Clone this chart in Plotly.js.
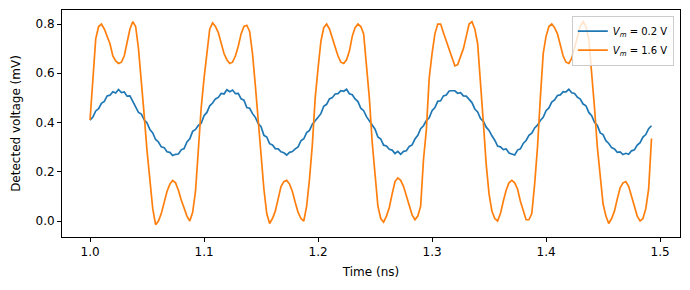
<!DOCTYPE html>
<html>
<head>
<meta charset="utf-8">
<script src="https://cdn.plot.ly/plotly-3.0.1.min.js"></script>
<style>
  html, body { margin: 0; padding: 0; background: #ffffff; }
  #chart { width: 690px; height: 290px; }
</style>
</head>
<body>
<div id="chart"></div>
<script>
// Detected voltage traces, sampled every 2.5 ps starting at t = 1.0 ns
const timeStart = 1.0;   // ns
const timeStep = 0.0025; // ns

// V_m = 0.2 V (mV)
const detectedLow = [
  0.410, 0.422, 0.447, 0.456, 0.478, 0.486, 0.508, 0.511, 0.525, 0.520,
  0.534, 0.522, 0.524, 0.507, 0.508, 0.486, 0.466, 0.441, 0.434, 0.411,
  0.398, 0.371, 0.358, 0.331, 0.321, 0.301, 0.298, 0.281, 0.279, 0.266,
  0.271, 0.272, 0.289, 0.294, 0.321, 0.334, 0.364, 0.372, 0.388, 0.397,
  0.428, 0.441, 0.468, 0.479, 0.496, 0.502, 0.518, 0.516, 0.533, 0.525,
  0.532, 0.517, 0.518, 0.496, 0.491, 0.461, 0.458, 0.436, 0.421, 0.396,
  0.383, 0.348, 0.341, 0.314, 0.309, 0.294, 0.293, 0.281, 0.277, 0.268,
  0.279, 0.282, 0.293, 0.301, 0.326, 0.334, 0.359, 0.368, 0.393, 0.405,
  0.421, 0.436, 0.466, 0.474, 0.496, 0.501, 0.516, 0.517, 0.529, 0.527,
  0.535, 0.517, 0.513, 0.496, 0.485, 0.458, 0.448, 0.424, 0.408, 0.388,
  0.373, 0.341, 0.333, 0.308, 0.305, 0.291, 0.288, 0.274, 0.283, 0.271,
  0.283, 0.285, 0.303, 0.309, 0.333, 0.348, 0.375, 0.387, 0.408, 0.419,
  0.448, 0.461, 0.486, 0.488, 0.508, 0.512, 0.528, 0.529, 0.529, 0.519,
  0.521, 0.508, 0.507, 0.494, 0.481, 0.455, 0.443, 0.416, 0.405, 0.381,
  0.368, 0.346, 0.328, 0.304, 0.301, 0.290, 0.293, 0.276, 0.273, 0.268,
  0.288, 0.293, 0.315, 0.327, 0.348, 0.357, 0.378, 0.389, 0.408, 0.421,
  0.448, 0.459, 0.483, 0.492, 0.510, 0.512, 0.525, 0.524, 0.535, 0.521,
  0.518, 0.503, 0.495, 0.475, 0.468, 0.441, 0.428, 0.401, 0.388, 0.358,
  0.351, 0.326, 0.315, 0.298, 0.293, 0.279, 0.281, 0.270, 0.275, 0.271,
  0.285, 0.289, 0.308, 0.318, 0.341, 0.351, 0.375, 0.387
];

// V_m = 1.6 V (mV)
const detectedHigh = [
  0.410, 0.580, 0.740, 0.790, 0.800, 0.780, 0.750, 0.720, 0.670, 0.650,
  0.640, 0.645, 0.670, 0.730, 0.780, 0.810, 0.790, 0.700, 0.580, 0.430,
  0.285, 0.150, 0.050, -0.015, 0.000, 0.030, 0.080, 0.120, 0.150, 0.165,
  0.155, 0.125, 0.085, 0.050, 0.020, 0.000, 0.035, 0.120, 0.300, 0.460,
  0.580, 0.680, 0.780, 0.805, 0.790, 0.765, 0.720, 0.680, 0.655, 0.640,
  0.645, 0.670, 0.710, 0.760, 0.790, 0.795, 0.770, 0.680, 0.550, 0.400,
  0.260, 0.130, 0.030, -0.010, 0.010, 0.040, 0.090, 0.140, 0.160, 0.165,
  0.150, 0.120, 0.075, 0.035, 0.010, 0.000, 0.060, 0.170, 0.310, 0.500,
  0.620, 0.730, 0.785, 0.800, 0.780, 0.745, 0.705, 0.670, 0.645, 0.640,
  0.655, 0.690, 0.750, 0.785, 0.800, 0.790, 0.760, 0.640, 0.500, 0.320,
  0.180, 0.060, 0.010, -0.005, 0.020, 0.055, 0.110, 0.160, 0.175, 0.165,
  0.140, 0.100, 0.060, 0.025, 0.005, 0.020, 0.060, 0.250, 0.370, 0.580,
  0.680, 0.760, 0.800, 0.800, 0.765, 0.730, 0.695, 0.660, 0.630, 0.635,
  0.670, 0.700, 0.750, 0.800, 0.810, 0.780, 0.720, 0.570, 0.400, 0.230,
  0.110, 0.040, 0.010, 0.000, 0.030, 0.080, 0.125, 0.155, 0.165, 0.155,
  0.130, 0.080, 0.040, 0.005, 0.005, 0.030, 0.150, 0.300, 0.500, 0.680,
  0.750, 0.790, 0.800, 0.785, 0.760, 0.710, 0.670, 0.645, 0.640, 0.660,
  0.700, 0.750, 0.790, 0.810, 0.790, 0.740, 0.610, 0.460, 0.300, 0.170,
  0.070, 0.020, -0.010, 0.010, 0.040, 0.090, 0.135, 0.155, 0.160, 0.140,
  0.100, 0.055, 0.020, 0.000, 0.010, 0.050, 0.130, 0.335
];

const seriesNames = ['<i>V<sub>m</sub></i> = 0.2 V', '<i>V<sub>m</sub></i> = 1.6 V'];
const yTickValues = [0.0, 0.2, 0.4, 0.6, 0.8];
const xTickValues = [1.0, 1.1, 1.2, 1.3, 1.4, 1.5];

const baseFont = { family: 'DejaVu Sans, sans-serif', size: 12, color: '#000000' };

const traces = [
  {
    type: 'scatter', mode: 'lines', name: seriesNames[0],
    x0: timeStart, dx: timeStep, y: detectedLow,
    line: { color: '#1f77b4', width: 1.7 }
  },
  {
    type: 'scatter', mode: 'lines', name: seriesNames[1],
    x0: timeStart, dx: timeStep, y: detectedHigh,
    line: { color: '#ff7f0e', width: 1.7 }
  }
];

const axisCommon = {
  showline: true, mirror: true, linecolor: '#000000', linewidth: 1,
  ticks: 'outside', ticklen: 4, tickwidth: 1, tickcolor: '#000000',
  showgrid: false, zeroline: false, tickfont: baseFont
};

const layout = {
  width: 690, height: 290,
  margin: { l: 62, r: 10, t: 10, b: 53 },
  paper_bgcolor: '#ffffff', plot_bgcolor: '#ffffff',
  font: baseFont,
  showlegend: true,
  legend: {
    x: 0.99, y: 0.975, xanchor: 'right', yanchor: 'top',
    bgcolor: 'rgba(255,255,255,0.8)', bordercolor: '#cccccc', borderwidth: 1,
    font: { family: 'DejaVu Sans, sans-serif', size: 10, color: '#000000' },
    tracegroupgap: 0
  },
  xaxis: Object.assign({}, axisCommon, {
    range: [0.9754, 1.5175],
    tickmode: 'array', tickvals: xTickValues, tickformat: '.1f',
    title: { text: 'Time (ns)', font: baseFont, standoff: 9 }
  }),
  yaxis: Object.assign({}, axisCommon, {
    range: [-0.065, 0.857],
    tickmode: 'array', tickvals: yTickValues, tickformat: '.1f',
    title: { text: 'Detected voltage (mV)', font: baseFont, standoff: 12 }
  })
};

Plotly.newPlot('chart', traces, layout, { staticPlot: true, displayModeBar: false });
</script>
</body>
</html>
